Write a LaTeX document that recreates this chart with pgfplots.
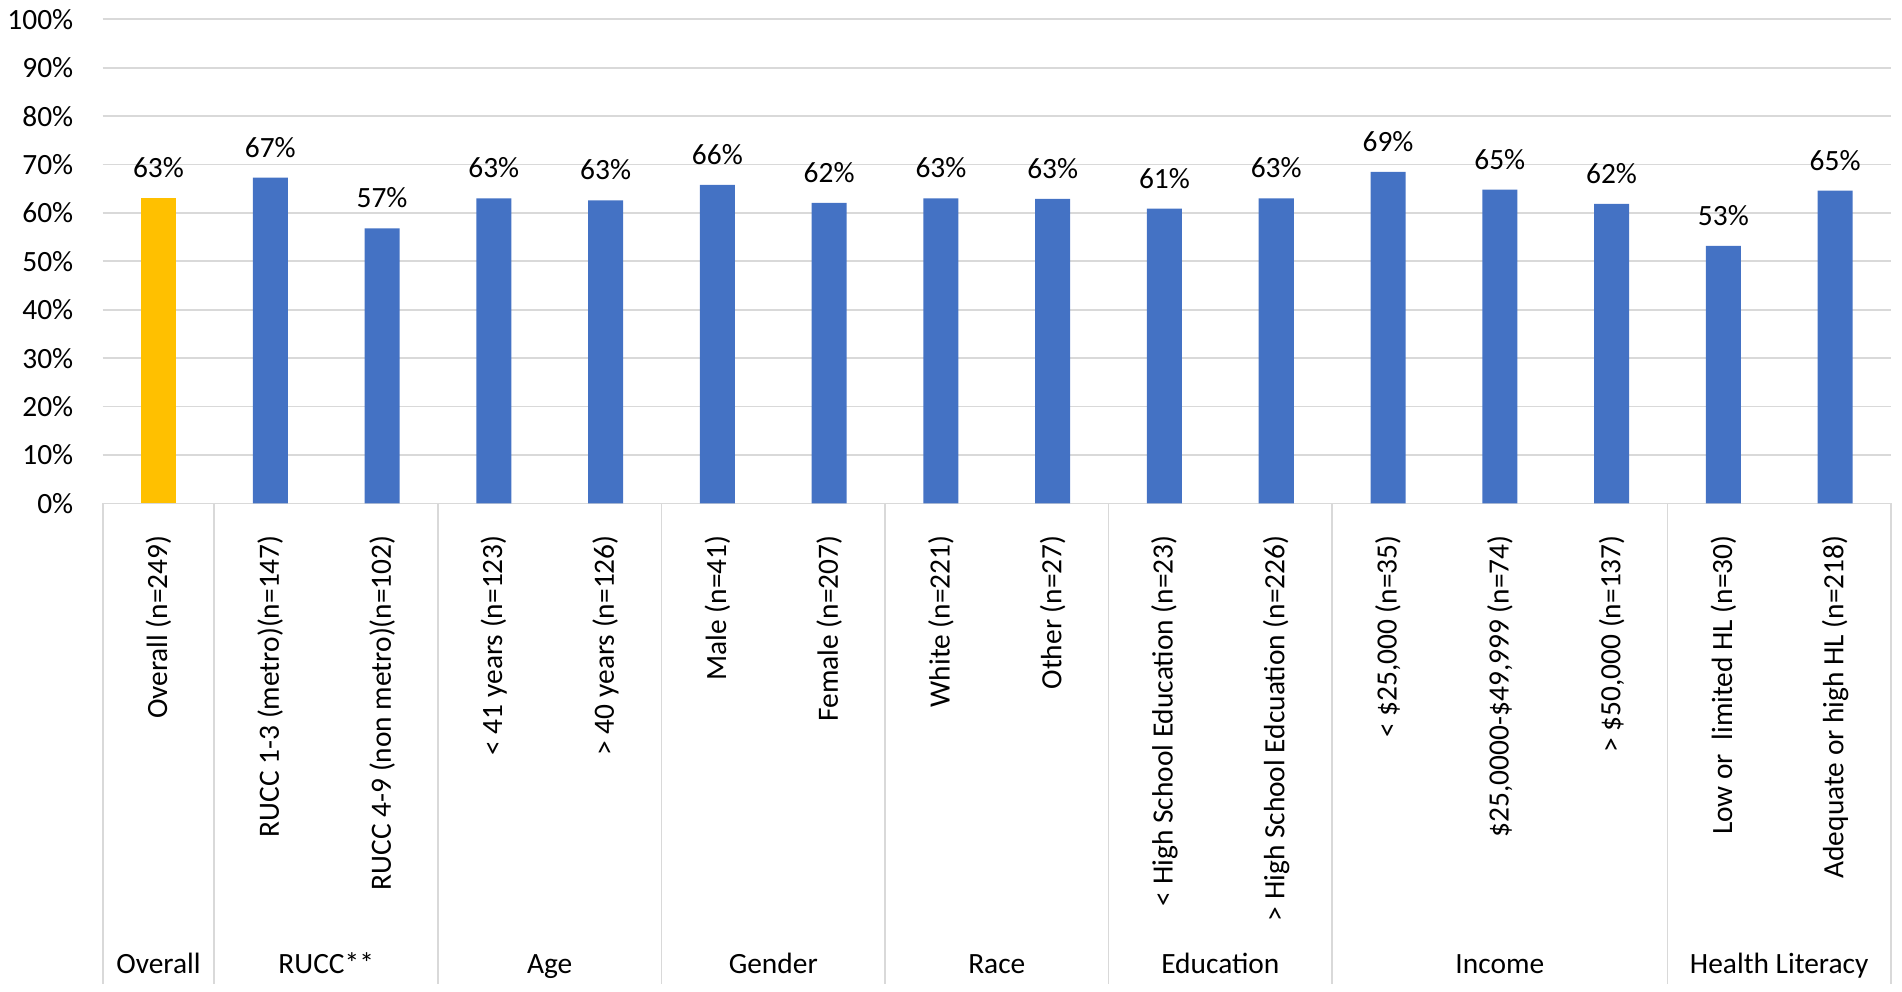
\documentclass[border=0pt]{standalone}
\usepackage{fontspec}
\setmainfont{Carlito}
\usepackage{pgfplots}
\pgfplotsset{compat=1.18}
\definecolor{barblue}{HTML}{4472C4}
\definecolor{bargold}{HTML}{FFC000}
\definecolor{gridgray}{HTML}{D9D9D9}
\begin{document}
\fontsize{14.7pt}{17pt}\selectfont
\begin{tikzpicture}
\path[use as bounding box] (-51.3pt,-243.85pt) rectangle (899.5pt,251.65pt);
\begin{axis}[
  at={(0,0)}, anchor=south west,
  width=894pt, height=242pt, scale only axis,
  /pgf/number format/assume math mode=true,
  ybar, bar width=17.5pt,
  xmin=-0.5, xmax=15.5, ymin=0, ymax=100,
  ytick={0,10,...,100},
  yticklabel={\pgfmathprintnumber{\tick}\%},
  yticklabel style={anchor=east, inner sep=0pt},
  yticklabel shift=14.5pt,
  ytick style={draw=none},
  ymajorgrids, grid style={draw=gridgray, line width=0.9pt},
  axis line style={draw=none},
  xtick={0,...,15},
  xticklabels={{Overall (n=249)},{RUCC 1-3 (metro)(n=147)},{RUCC 4-9 (non metro)(n=102)},{< 41 years (n=123)},{> 40 years (n=126)},{Male (n=41)},{Female (n=207)},{White (n=221)},{Other (n=27)},{< High School Education (n=23)},{> High School Edcuation (n=226)},{< \$25,000 (n=35)},{\$25,0000-\$49,999 (n=74)},{> \$50,000 (n=137)},{Low or~ limited HL (n=30)},{Adequate or high HL (n=218)}},
  xticklabel style={rotate=90, anchor=east, inner sep=0pt},
  xticklabel shift=11.5pt,
  xtick pos=left,
  major x tick style={draw=none},
  extra x ticks={-0.5,0.5,2.5,4.5,6.5,8.5,10.5,13.5,15.5},
  extra x tick labels={},
  extra x tick style={major tick length=240pt, tick align=outside, xmajorgrids=false,
     major x tick style={draw=gridgray, line width=0.9pt}},
  nodes near coords={\pgfmathprintnumber[fixed,precision=0]{\pgfplotspointmeta}\%},
  nodes near coords style={text=black, yshift=5pt},
  clip=false,
]
\addplot[fill=bargold, draw=none, bar shift=0pt] coordinates {(0,63.0)};
\addplot[fill=barblue, draw=none, bar shift=0pt] coordinates {
(1,67.3) (2,56.8) (3,63.0) (4,62.6) (5,65.8) (6,62.1) (7,63.0) (8,62.9)
(9,60.9) (10,63.0) (11,68.5) (12,64.8) (13,61.9) (14,53.2) (15,64.6)};
\node[anchor=base, yshift=-234.85pt] at (axis cs:0,0) {Overall};
\node[anchor=base, yshift=-234.85pt] at (axis cs:1.5,0) {RUCC**};
\node[anchor=base, yshift=-234.85pt] at (axis cs:3.5,0) {Age};
\node[anchor=base, yshift=-234.85pt] at (axis cs:5.5,0) {Gender};
\node[anchor=base, yshift=-234.85pt] at (axis cs:7.5,0) {Race};
\node[anchor=base, yshift=-234.85pt] at (axis cs:9.5,0) {Education};
\node[anchor=base, yshift=-234.85pt] at (axis cs:12,0) {Income};
\node[anchor=base, yshift=-234.85pt] at (axis cs:14.5,0) {Health Literacy};
\end{axis}
\end{tikzpicture}
\end{document}
